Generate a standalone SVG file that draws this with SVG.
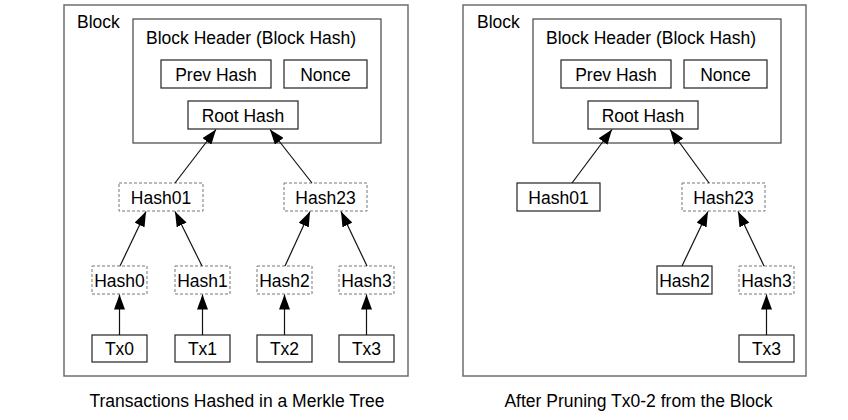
<svg xmlns="http://www.w3.org/2000/svg" width="848" height="420" viewBox="0 0 848 420">
<defs>
<style>
text{font-family:"Liberation Sans",Arial,sans-serif;font-size:17.5px;fill:#000}
.c{text-anchor:middle}
.outer{fill:#fff;stroke:#6e6e6e;stroke-width:1.5}
.hdr{fill:#fff;stroke:#444;stroke-width:1.2}
.box{fill:#fff;stroke:#222;stroke-width:1.2}
.dash{fill:#fff;stroke:#777;stroke-width:1;stroke-dasharray:3 2}
.edge{stroke:#111;stroke-width:1.2;fill:none;marker-end:url(#ah)}
</style>
<marker id="ah" markerUnits="userSpaceOnUse" markerWidth="15" markerHeight="11" refX="15" refY="5.5" orient="auto">
<path d="M0,0 L15,5.5 L0,11 z" fill="#000"/>
</marker>
</defs>
<rect width="848" height="420" fill="#fff"/>

<!-- Left panel -->
<g id="blockL">
<rect class="outer" x="64" y="5" width="344" height="371"/>
<text x="77" y="28">Block</text>
</g>
<g id="headerL">
<rect class="hdr" x="133" y="19" width="248" height="124"/>
<text x="146" y="44">Block Header (Block Hash)</text>
</g>
<g id="prevL"><rect class="box" x="161" y="60" width="110" height="28"/><text class="c" x="216" y="80.5">Prev Hash</text></g>
<g id="nonceL"><rect class="box" x="284" y="60" width="83" height="28"/><text class="c" x="325.5" y="80.5">Nonce</text></g>
<g id="rootL"><rect class="box" x="188" y="101" width="110" height="28"/><text class="c" x="243" y="121.5">Root Hash</text></g>
<g id="hash01L"><rect class="dash" x="119" y="183" width="84" height="28"/><text class="c" x="161" y="203.5">Hash01</text></g>
<g id="hash23L"><rect class="dash" x="284" y="183" width="83" height="28"/><text class="c" x="325.5" y="203.5">Hash23</text></g>
<g id="hash0L"><rect class="dash" x="92" y="266" width="55" height="28"/><text class="c" x="119.5" y="286.5">Hash0</text></g>
<g id="hash1L"><rect class="dash" x="175" y="266" width="55" height="28"/><text class="c" x="202.5" y="286.5">Hash1</text></g>
<g id="hash2L"><rect class="dash" x="257" y="266" width="55" height="28"/><text class="c" x="284.5" y="286.5">Hash2</text></g>
<g id="hash3L"><rect class="dash" x="339" y="266" width="55" height="28"/><text class="c" x="366.5" y="286.5">Hash3</text></g>
<g id="tx0L"><rect class="box" x="92" y="335" width="55" height="27"/><text class="c" x="119.5" y="355">Tx0</text></g>
<g id="tx1L"><rect class="box" x="175" y="335" width="55" height="27"/><text class="c" x="202.5" y="355">Tx1</text></g>
<g id="tx2L"><rect class="box" x="257" y="335" width="55" height="27"/><text class="c" x="284.5" y="355">Tx2</text></g>
<g id="tx3L"><rect class="box" x="339" y="335" width="55" height="27"/><text class="c" x="366.5" y="355">Tx3</text></g>
<text class="c" x="237" y="407">Transactions Hashed in a Merkle Tree</text>

<!-- Right panel -->
<g id="blockR">
<rect class="outer" x="463" y="5" width="343" height="371"/>
<text x="477" y="28">Block</text>
</g>
<g id="headerR">
<rect class="hdr" x="533" y="19" width="248" height="124"/>
<text x="546" y="44">Block Header (Block Hash)</text>
</g>
<g id="prevR"><rect class="box" x="561" y="60" width="110" height="28"/><text class="c" x="616" y="80.5">Prev Hash</text></g>
<g id="nonceR"><rect class="box" x="684" y="60" width="83" height="28"/><text class="c" x="725.5" y="80.5">Nonce</text></g>
<g id="rootR"><rect class="box" x="588" y="101" width="110" height="28"/><text class="c" x="643" y="121.5">Root Hash</text></g>
<g id="hash01R"><rect class="box" x="517" y="183" width="83" height="28"/><text class="c" x="558.5" y="203.5">Hash01</text></g>
<g id="hash23R"><rect class="dash" x="682" y="183" width="83" height="28"/><text class="c" x="723.5" y="203.5">Hash23</text></g>
<g id="hash2R"><rect class="box" x="657" y="266" width="55" height="28"/><text class="c" x="684.5" y="286.5">Hash2</text></g>
<g id="hash3R"><rect class="dash" x="739" y="266" width="55" height="28"/><text class="c" x="766.5" y="286.5">Hash3</text></g>
<g id="tx3R"><rect class="box" x="739" y="335" width="55" height="27"/><text class="c" x="766.5" y="355">Tx3</text></g>
<text class="c" x="638.5" y="407">After Pruning Tx0-2 from the Block</text>

<g id="connectors">
<line class="edge" x1="175" y1="183" x2="216" y2="129.5"/>
<line class="edge" x1="312" y1="183" x2="270" y2="129.5"/>
<line class="edge" x1="120" y1="266" x2="146" y2="211.5"/>
<line class="edge" x1="202" y1="266" x2="175" y2="211.5"/>
<line class="edge" x1="285" y1="266" x2="310" y2="211.5"/>
<line class="edge" x1="367" y1="266" x2="341" y2="211.5"/>
<line class="edge" x1="119.5" y1="335" x2="119.5" y2="294.5"/>
<line class="edge" x1="202.5" y1="335" x2="202.5" y2="294.5"/>
<line class="edge" x1="284.5" y1="335" x2="284.5" y2="294.5"/>
<line class="edge" x1="366.5" y1="335" x2="366.5" y2="294.5"/>
<line class="edge" x1="572" y1="183" x2="612" y2="129.5"/>
<line class="edge" x1="709" y1="183" x2="670" y2="129.5"/>
<line class="edge" x1="682" y1="266" x2="708" y2="211.5"/>
<line class="edge" x1="764" y1="266" x2="738" y2="211.5"/>
<line class="edge" x1="766.5" y1="335" x2="766.5" y2="294.5"/>
</g>
</svg>
